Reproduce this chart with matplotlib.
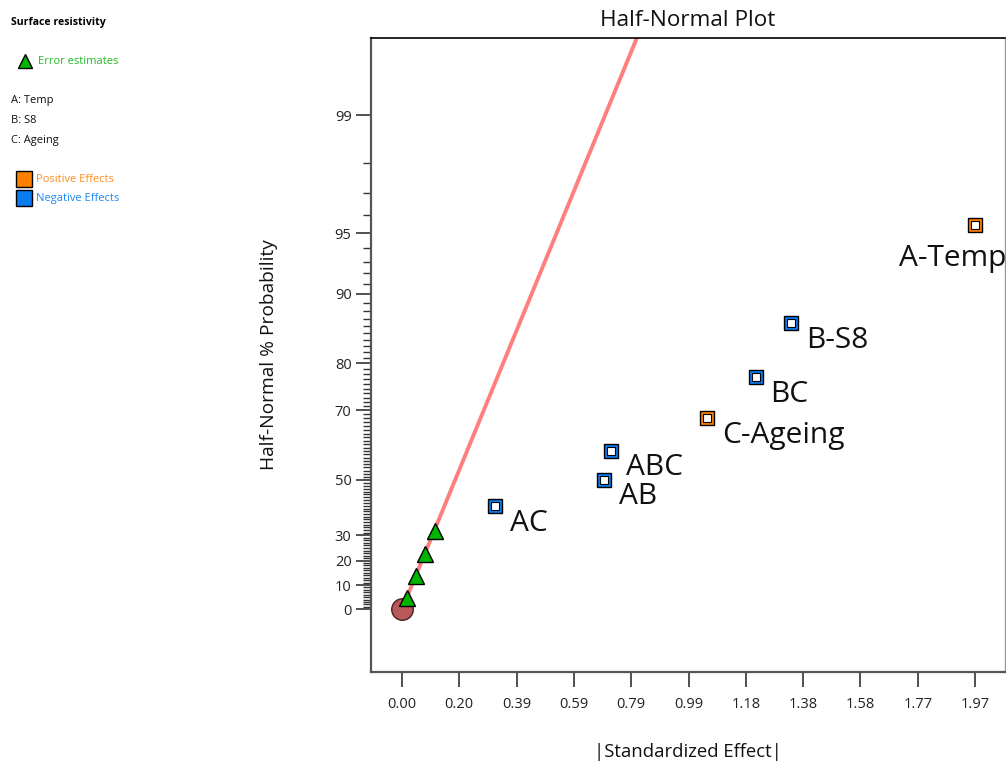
import math
import numpy as np
import matplotlib
matplotlib.use("Agg")
import matplotlib.pyplot as plt
from matplotlib.lines import Line2D

# ---------------- data ----------------
effect_names = ["AC", "AB", "ABC", "C-Ageing", "BC", "B-S8", "A-Temp"]
effect_x = [0.320, 0.694, 0.718, 1.048, 1.217, 1.337, 1.970]
effect_p = [40.9, 50.0, 59.1, 68.2, 77.3, 86.4, 95.5]
effect_sign = ["neg", "neg", "neg", "pos", "neg", "neg", "pos"]

error_x = [0.016, 0.047, 0.079, 0.113]
error_p = [4.5, 13.6, 22.7, 31.8]

origin_x = [0.0]
origin_p = [0.0]

fit_x = [0.0, 0.90]
fit_p = [0.0, 99.91]

x_ticks = [0.000, 0.197, 0.394, 0.591, 0.788, 0.985, 1.182, 1.379, 1.576, 1.773, 1.970]
x_tick_labels = ["0.00", "0.20", "0.39", "0.59", "0.79", "0.99", "1.18", "1.38", "1.58", "1.77", "1.97"]
y_ticks = [0, 10, 20, 30, 50, 70, 80, 90, 95, 99]
y_minor = [v for v in range(1, 99) if v not in y_ticks]

legend_factors = ["A: Temp", "B: S8", "C: Ageing"]

# ---------------- half-normal probability scale ----------------
_verf = np.vectorize(math.erf, otypes=[float])
SQ2 = math.sqrt(2.0)


def hn_forward(p):
    p = np.clip(np.asarray(p, dtype=float), -99.9999999, 99.9999999)
    target = p / 100.0
    lo = np.full(p.shape, -8.0)
    hi = np.full(p.shape, 8.0)
    for _ in range(55):
        mid = 0.5 * (lo + hi)
        f = _verf(mid / SQ2)
        m = f < target
        lo = np.where(m, mid, lo)
        hi = np.where(m, hi, mid)
    return 0.5 * (lo + hi)


def hn_inverse(z):
    return 100.0 * _verf(np.asarray(z, dtype=float) / SQ2)


plt.rcParams['font.family'] = ['Open Sans', 'DejaVu Sans']

W, H = 1006, 764
fig = plt.figure(figsize=(W / 100, H / 100), dpi=100)
ax = fig.add_axes([371 / W, 1 - 672 / H, (1005 - 371) / W, (672 - 38) / H])
ax.set_yscale('function', functions=(hn_forward, hn_inverse))

ORANGE = '#FF8000'
BLUE = '#0A7CF0'
GREEN = '#00B400'

# fit line
ax.plot(fit_x, fit_p, color='#FF7F7F', lw=2.8, zorder=2, solid_capstyle='butt')

# origin circle
ax.plot(origin_x, origin_p, 'o', ms=15.5, mfc='#B85858', mec='#4a2020', mew=1.0, zorder=3)

# error estimates
ax.plot(error_x, error_p, '^', ms=11, mfc=GREEN, mec='black', mew=1.0, zorder=4, ls='none')

# effects
label_offsets = {"AC": (15, -17), "AB": (15, -17), "ABC": (15, -17), "C-Ageing": (15, -18),
                 "BC": (14, -17), "B-S8": (15, -17), "A-Temp": (-76, -34)}
for name, x, p, s in zip(effect_names, effect_x, effect_p, effect_sign):
    c = ORANGE if s == "pos" else BLUE
    ax.plot([x], [p], 's', ms=9.8, mfc=c, mec='black', mew=1.0, zorder=5)
    ax.plot([x], [p], 's', ms=5.2, mfc='white', mec='black', mew=0.8, zorder=6)
    ax.annotate(name, (x, p), xytext=label_offsets[name], textcoords='offset pixels',
                ha='left', va='center', fontsize=21.5, color='#111111', zorder=7)

ax.set_xlim(-0.1066, 2.073)
ax.set_ylim(-25.7, 99.71)

ax.set_xticks(x_ticks)
ax.set_xticklabels(x_tick_labels)
ax.set_yticks(y_ticks)
ax.set_yticklabels([str(v) for v in y_ticks])
ax.set_yticks(y_minor, minor=True)

ax.tick_params(axis='x', direction='out', length=11, width=1.2, color='#333333',
               labelsize=10.5, pad=7, labelcolor='#222222')
ax.tick_params(axis='y', which='major', direction='out', length=11, width=1.2,
               color='#333333', labelsize=10.5, pad=3, labelcolor='#222222')
ax.tick_params(axis='y', which='minor', direction='out', length=6, width=1.0, color='#333333')

ax.spines['left'].set_color('#555555')
ax.spines['left'].set_linewidth(1.6)
ax.spines['bottom'].set_color('#555555')
ax.spines['bottom'].set_linewidth(1.6)
ax.spines['top'].set_color('black')
ax.spines['top'].set_linewidth(1.2)
ax.spines['right'].set_color('#999999')
ax.spines['right'].set_linewidth(1.0)

ax.set_title("Half-Normal Plot", fontsize=16.2, pad=9, color='#111111')
ax.set_xlabel("|Standardized Effect|", fontsize=13.3, labelpad=22, color='#111111')
ax.set_ylabel("Half-Normal % Probability", fontsize=13.8, labelpad=41, color='#111111')


# ---------------- left info panel ----------------
def fx(px):
    return px / W


def fy(py):
    return 1 - py / H


fig.text(fx(11), fy(22), "Surface resistivity", fontsize=7.6, fontweight='bold',
         va='center', ha='left', color='black')
fig.add_artist(Line2D([fx(25)], [fy(61)], transform=fig.transFigure, marker='^', ms=10,
                      mfc=GREEN, mec='black', mew=1.0, ls='none'))
fig.text(fx(38), fy(62), "Error estimates", fontsize=8, va='center', ha='left', color='#22BB22')
for i, t in enumerate(legend_factors):
    fig.text(fx(11), fy(101 + 19.5 * i), t, fontsize=8, va='center', ha='left', color='#111111')
fig.add_artist(Line2D([fx(24)], [fy(179)], transform=fig.transFigure, marker='s', ms=11,
                      mfc=ORANGE, mec='black', mew=1.0, ls='none'))
fig.text(fx(36), fy(180), "Positive Effects", fontsize=8, va='center', ha='left', color='#FF8C1A')
fig.add_artist(Line2D([fx(24)], [fy(198)], transform=fig.transFigure, marker='s', ms=11,
                      mfc=BLUE, mec='black', mew=1.0, ls='none'))
fig.text(fx(36), fy(199), "Negative Effects", fontsize=8, va='center', ha='left', color='#1E88F0')

fig.savefig("out.png", dpi=100)
